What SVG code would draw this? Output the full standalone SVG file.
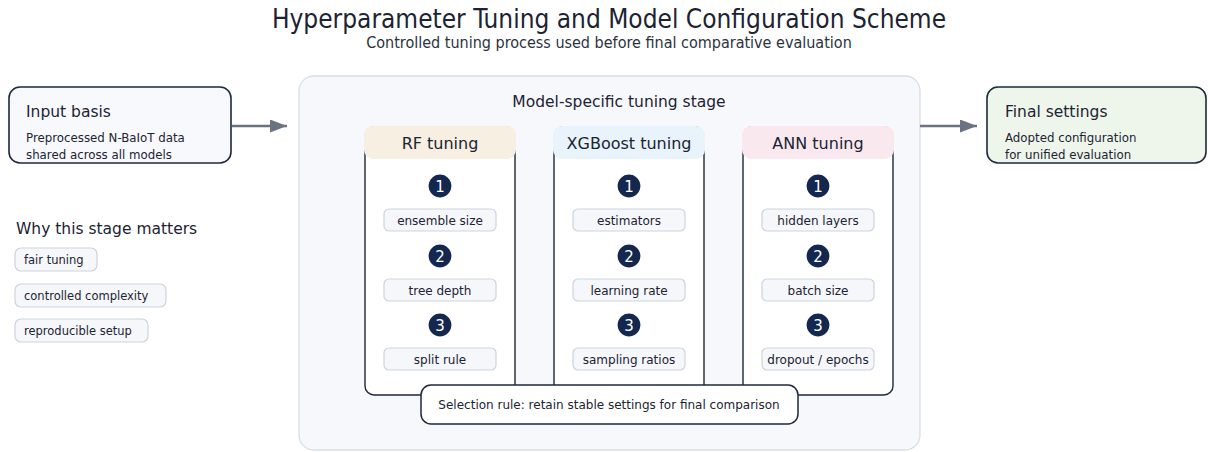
<svg xmlns="http://www.w3.org/2000/svg" width="1208" height="452" viewBox="0 0 1208 452">
  <style>
    text { font-family: "DejaVu Sans", "Liberation Sans", sans-serif; fill: #1c2333; }
    .title { font-family: "DejaVu Sans Condensed", "DejaVu Sans", sans-serif; font-stretch: condensed; font-size: 26px; text-anchor: middle; }
    .sub { font-family: "DejaVu Sans Condensed", "DejaVu Sans", sans-serif; font-stretch: condensed; font-size: 16px; text-anchor: middle; fill: #2b3240; }
    .head { font-size: 15.5px; }
    .body { font-size: 11.8px; }
    .stage-label { font-size: 15.5px; text-anchor: middle; }
    .col-head { font-size: 16px; text-anchor: middle; }
    .param { font-size: 12px; text-anchor: middle; }
    .num { font-size: 15px; text-anchor: middle; fill: #ffffff; }
    .tag { font-size: 11.5px; }
    .io-box { stroke: #1e293b; stroke-width: 1.6; }
    .col-body { fill: #ffffff; stroke: #1e293b; stroke-width: 1.4; }
    .param-box { fill: #f5f7fb; stroke: #cdd3dd; stroke-width: 1.2; }
    .tag-box { fill: #f5f7fb; stroke: #cdd3dd; stroke-width: 1.2; }
    .badge { fill: #14274e; stroke: #ffffff; stroke-width: 1.2; }
    .stem { stroke: #5b6472; stroke-width: 2; }
    .flow { stroke: #6b7280; stroke-width: 2.6; fill: none; }
  </style>
  <defs>
    <marker id="arrow" viewBox="0 0 17 13" refX="17" refY="6.5" markerWidth="17" markerHeight="13" markerUnits="userSpaceOnUse" orient="auto">
      <path d="M0,0 L17,6.5 L0,13 z" fill="#6b7280"/>
    </marker>
  </defs>

  <rect width="1208" height="452" fill="#ffffff"/>

  <!-- heading -->
  <text class="title" x="609" y="28">Hyperparameter Tuning and Model Configuration Scheme</text>
  <text class="sub" x="609" y="48">Controlled tuning process used before final comparative evaluation</text>

  <!-- tuning stage container -->
  <g id="stage">
    <rect x="299" y="76" width="621" height="374" rx="15" fill="#f7f8fc" stroke="#d9dde5" stroke-width="1.3"/>
    <text class="stage-label" x="619" y="107">Model-specific tuning stage</text>
  </g>

  <!-- connectors -->
  <g id="connectors">
    <line class="flow" x1="232" y1="126" x2="287" y2="126" marker-end="url(#arrow)"/>
    <line class="flow" x1="920" y1="126" x2="977" y2="126" marker-end="url(#arrow)"/>
    <g class="stems">
      <line class="stem" x1="440" y1="197" x2="440" y2="209"/>
      <line class="stem" x1="440" y1="267" x2="440" y2="279"/>
      <line class="stem" x1="629" y1="197" x2="629" y2="209"/>
      <line class="stem" x1="629" y1="267" x2="629" y2="279"/>
      <line class="stem" x1="818" y1="197" x2="818" y2="209"/>
      <line class="stem" x1="818" y1="267" x2="818" y2="279"/>
    </g>
  </g>

  <!-- input -->
  <g id="input-basis">
    <rect class="io-box" x="9" y="87" width="222" height="76" rx="11" fill="#f8f9fd"/>
    <text class="head" x="26" y="117">Input basis</text>
    <text class="body" x="26" y="142">Preprocessed N-BaIoT data</text>
    <text class="body" x="26" y="159">shared across all models</text>
  </g>

  <!-- output -->
  <g id="final-settings">
    <rect class="io-box" x="987" y="87" width="219" height="76" rx="11" fill="#eef6ec"/>
    <text class="head" x="1005" y="117">Final settings</text>
    <text class="body" x="1005" y="142">Adopted configuration</text>
    <text class="body" x="1005" y="159">for unified evaluation</text>
  </g>

  <!-- rationale -->
  <g id="rationale">
    <text class="head" x="16" y="234">Why this stage matters</text>
    <rect class="tag-box" x="15" y="248" width="82" height="23" rx="6"/>
    <text class="tag" x="24" y="264">fair tuning</text>
    <rect class="tag-box" x="15" y="284" width="151" height="23" rx="6"/>
    <text class="tag" x="24" y="300">controlled complexity</text>
    <rect class="tag-box" x="15" y="319" width="133" height="23" rx="6"/>
    <text class="tag" x="24" y="335">reproducible setup</text>
  </g>

  <!-- RF column -->
  <g id="rf-tuning">
    <rect class="col-body" x="365" y="127" width="150" height="268" rx="9"/>
    <rect x="364" y="126" width="152" height="33" rx="9" fill="#f6efe2"/>
    <text class="col-head" x="440" y="149">RF tuning</text>
    <circle class="badge" cx="440" cy="186" r="12"/>
    <text class="num" x="440" y="191.5">1</text>
    <rect class="param-box" x="384" y="209" width="112" height="22" rx="5"/>
    <text class="param" x="440" y="224.5">ensemble size</text>
    <circle class="badge" cx="440" cy="256" r="12"/>
    <text class="num" x="440" y="261.5">2</text>
    <rect class="param-box" x="384" y="279" width="112" height="22" rx="5"/>
    <text class="param" x="440" y="294.5">tree depth</text>
    <circle class="badge" cx="440" cy="325" r="12"/>
    <text class="num" x="440" y="330.5">3</text>
    <rect class="param-box" x="384" y="348" width="112" height="22" rx="5"/>
    <text class="param" x="440" y="363.5">split rule</text>
  </g>

  <!-- XGBoost column -->
  <g id="xgboost-tuning">
    <rect class="col-body" x="554" y="127" width="150" height="268" rx="9"/>
    <rect x="553" y="126" width="152" height="33" rx="9" fill="#e8f3fb"/>
    <text class="col-head" x="629" y="149">XGBoost tuning</text>
    <circle class="badge" cx="629" cy="186" r="12"/>
    <text class="num" x="629" y="191.5">1</text>
    <rect class="param-box" x="573" y="209" width="112" height="22" rx="5"/>
    <text class="param" x="629" y="224.5">estimators</text>
    <circle class="badge" cx="629" cy="256" r="12"/>
    <text class="num" x="629" y="261.5">2</text>
    <rect class="param-box" x="573" y="279" width="112" height="22" rx="5"/>
    <text class="param" x="629" y="294.5">learning rate</text>
    <circle class="badge" cx="629" cy="325" r="12"/>
    <text class="num" x="629" y="330.5">3</text>
    <rect class="param-box" x="573" y="348" width="112" height="22" rx="5"/>
    <text class="param" x="629" y="363.5">sampling ratios</text>
  </g>

  <!-- ANN column -->
  <g id="ann-tuning">
    <rect class="col-body" x="743" y="127" width="150" height="268" rx="9"/>
    <rect x="742" y="126" width="152" height="33" rx="9" fill="#f9e9ee"/>
    <text class="col-head" x="818" y="149">ANN tuning</text>
    <circle class="badge" cx="818" cy="186" r="12"/>
    <text class="num" x="818" y="191.5">1</text>
    <rect class="param-box" x="762" y="209" width="112" height="22" rx="5"/>
    <text class="param" x="818" y="224.5">hidden layers</text>
    <circle class="badge" cx="818" cy="256" r="12"/>
    <text class="num" x="818" y="261.5">2</text>
    <rect class="param-box" x="762" y="279" width="112" height="22" rx="5"/>
    <text class="param" x="818" y="294.5">batch size</text>
    <circle class="badge" cx="818" cy="325" r="12"/>
    <text class="num" x="818" y="330.5">3</text>
    <rect class="param-box" x="762" y="348" width="112" height="22" rx="5"/>
    <text class="param" x="818" y="363.5">dropout / epochs</text>
  </g>

  <!-- selection rule -->
  <g id="selection-rule">
    <rect x="421" y="385" width="377" height="39" rx="10" fill="#ffffff" stroke="#1e293b" stroke-width="1.5"/>
    <text class="param" x="609" y="409">Selection rule: retain stable settings for final comparison</text>
  </g>
</svg>
